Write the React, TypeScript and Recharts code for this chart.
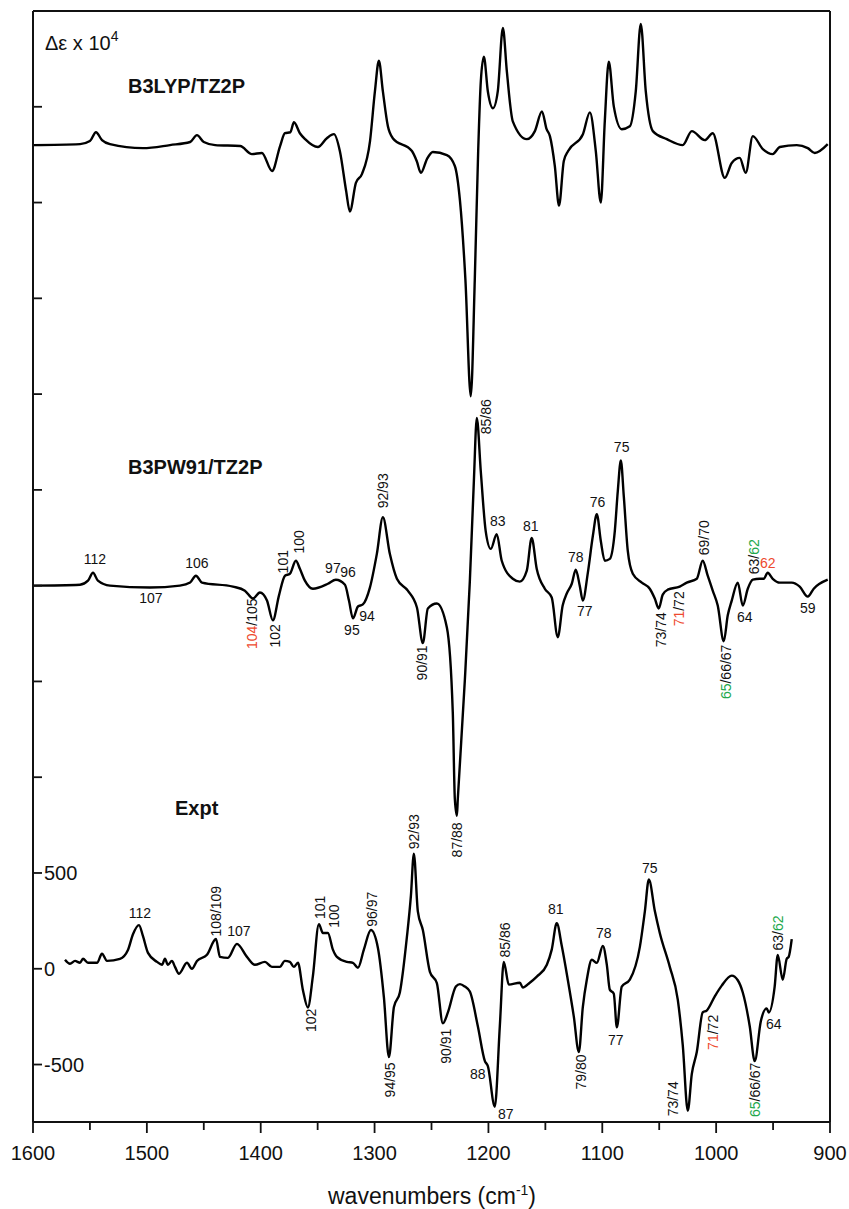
import React from 'react';
import { LineChart, Line, XAxis, YAxis, ReferenceLine, ReferenceDot } from 'recharts';

const FONT = 'Arial, "Liberation Sans", Helvetica, sans-serif';
const INK = '#111';
const RED = '#ee4a2e';
const GREEN = '#22a84c';

const Y_MIN = -800;
const Y_MAX = 5000;

// vertical offsets of the stacked spectra
const LYP_OFFSET = 4300;
const PW_OFFSET = 2000;
const EXPT_OFFSET = 0;

const X_TICKS = [1600, 1550, 1500, 1450, 1400, 1350, 1300, 1250, 1200, 1150, 1100, 1050, 1000, 950, 900];
const Y_TICKS = [-500, 0, 500, 1000, 1500, 2000, 2500, 3000, 3500, 4000, 4500];
const Y_LABELED = [-500, 0, 500];

// B3LYP/TZ2P
const lypWn = [
  1600, 1558.7, 1550, 1544.7, 1539.4, 1532.4, 1503.4, 1479.7, 1462, 1456,
  1450, 1440, 1418, 1407.7, 1399, 1390, 1383, 1378.7, 1374, 1370.8,
  1365.6, 1361, 1349.8, 1341.9, 1335.7, 1330.5, 1325, 1321.7, 1316.4, 1311,
  1304, 1299.7, 1296.2, 1292.7, 1288.3, 1284, 1267.2, 1263, 1259.3, 1254,
  1248.8, 1236.5, 1229.5, 1225, 1220.2, 1215.5, 1212, 1209, 1206.7, 1204,
  1200.5, 1196, 1191.8, 1187.3, 1183.8, 1178.6, 1166.3, 1159.2, 1153, 1148.9,
  1146, 1141.7, 1138, 1133.8, 1130, 1117, 1110.9, 1105.7, 1101.3, 1097.8,
  1094.3, 1089.9, 1082.9, 1075.8, 1070.6, 1066.2, 1061.8, 1055.6, 1043.3, 1029.3,
  1021.4, 1010, 1003, 992.4, 986.3, 979.3, 974, 967.8, 959, 950.3,
  944.1, 929.2, 919.5, 913.4, 902,
];
const lypDe = [
  0, 5, 21, 67, 26, 5, -16, 0, 16, 52,
  16, 0, -5, -47, -41, -135, -5, 62, 67, 119,
  62, 31, -10, 36, 57, -31, -238, -347, -197, -150,
  21, 280, 440, 280, 98, 36, -31, -83, -145, -73,
  -36, -52, -109, -290, -705, -1311, -705, -31, 332, 461,
  280, 192, 280, 611, 383, 124, 31, 73, 176, 83,
  47, -109, -316, -83, -31, 57, 171, -31, -300, 124,
  435, 202, 83, 98, 280, 632, 280, 73, 31, 0,
  73, 26, 62, -171, -93, -67, -145, 47, -21, -47,
  -10, 0, -16, -41, 5,
];

// B3PW91/TZ2P
const pwWn = [
  1600, 1558.7, 1551.7, 1547.3, 1543, 1532.4, 1497.3, 1471, 1462, 1456.9,
  1451.6, 1424.4, 1413.9, 1406.8, 1400.7, 1394.5, 1389.3, 1384, 1378.7, 1374.4,
  1369.1, 1365.6, 1361.2, 1354.2, 1341, 1334, 1326, 1322.5, 1319, 1314.6,
  1310.3, 1304.1, 1298, 1292.7, 1286.6, 1280.4, 1270.8, 1262.8, 1257.6, 1253.2,
  1245.3, 1236.5, 1231.3, 1229.5, 1227.7, 1226.9, 1220.7, 1216.3, 1212.8, 1210.2,
  1206.7, 1202.4, 1197.9, 1192.7, 1188.3, 1178.6, 1172.4, 1166.3, 1162, 1157.6,
  1150.5, 1144.4, 1139.1, 1134.8, 1131.2, 1126.8, 1123.3, 1119.8, 1117.1, 1112.7,
  1108.3, 1104.8, 1101.3, 1097.8, 1093.4, 1089, 1086.4, 1083.7, 1081.1, 1077.6,
  1073.2, 1065.3, 1058.3, 1053.9, 1050.4, 1046.9, 1042.5, 1032, 1025.8, 1017,
  1011.8, 1007.4, 1003, 998.6, 993.3, 989.8, 986.3, 981, 976.6, 972.2,
  967.8, 961.7, 958.2, 954.7, 950.3, 944.1, 933.6, 926.6, 919.5, 914.3,
  902,
];
const pwDe = [
  0, 5, 26, 67, 26, 0, -10, 0, 16, 52,
  16, -5, -26, -67, -36, -78, -181, -52, 52, 62,
  130, 88, 26, -16, 10, 31, 5, -78, -171, -109,
  -98, -10, 166, 357, 166, 36, -26, -114, -300, -119,
  -93, -218, -663, -1114, -1202, -1114, -492, 26, 544, 875,
  596, 285, 192, 269, 130, 36, 21, 78, 249, 88,
  -16, -62, -269, -104, -41, 10, 83, 0, -78, 67,
  259, 373, 233, 130, 140, 285, 492, 653, 466, 181,
  62, 16, -16, -67, -119, -47, -21, -5, 16, 36,
  130, 52, -26, -104, -290, -155, -78, 16, -104, -16,
  31, 36, 36, 67, 36, 16, 16, -5, -57, -16,
  31,
];

// Expt
const exWn = [
  1571.9, 1567.5, 1563.1, 1558.7, 1556.1, 1551.7, 1543.8, 1539.4, 1535, 1523.6,
  1516.6, 1512.2, 1506.9, 1503.4, 1499, 1491.1, 1486.7, 1484.1, 1481.5, 1478,
  1475.3, 1471.8, 1464.8, 1460.4, 1456, 1447.2, 1439.3, 1435.8, 1428.8, 1420.9,
  1412.1, 1405.1, 1396.3, 1390.2, 1383.2, 1378.8, 1374.4, 1370.9, 1367.3, 1363,
  1358.6, 1354.2, 1348.9, 1345.4, 1341, 1336.6, 1333.1, 1324.3, 1319, 1314.6,
  1309.4, 1303.2, 1297.1, 1291.8, 1287.4, 1283, 1277.8, 1271.6, 1268.1, 1265.5,
  1262, 1257.6, 1251.4, 1245.3, 1240, 1235.6, 1228.6, 1225, 1220.7, 1216.3,
  1209.3, 1203.1, 1200.5, 1194.4, 1190, 1186.5, 1182.1, 1172.4, 1169.8, 1163.7,
  1157.5, 1148.7, 1144.4, 1140, 1135.6, 1130.3, 1125, 1120.6, 1117.1, 1113.6,
  1109.2, 1104.8, 1099.5, 1096, 1093.4, 1089.9, 1087.2, 1082.9, 1075.8, 1067,
  1062.6, 1059.1, 1053.8, 1049.5, 1040.7, 1033.7, 1029.3, 1024.9, 1021.4, 1017,
  1011.8, 1008.3, 1001.3, 995.1, 986.3, 981, 976.6, 970.5, 966.1, 960.8,
  955.6, 953.8, 948.6, 945.9, 941.5, 938, 936.3, 933.6,
];
const exDe = [
  47, 26, 41, 31, 52, 31, 31, 78, 41, 52,
  98, 180, 228, 170, 83, 36, 21, 52, 21, 41,
  10, -26, 31, 0, 41, 73, 155, 62, 57, 130,
  62, 21, 36, 10, 10, 41, 36, 10, 31, -109,
  -202, -40, 233, 187, 187, 100, 62, 36, 31, 5,
  100, 202, 110, -150, -461, -200, -124, 166, 380, 601,
  300, 202, -16, -75, -285, -228, -93, -80, -93, -119,
  -300, -482, -508, -720, -300, 36, -83, -73, -98, -73,
  -41, 21, 100, 238, 120, -57, -250, -435, -200, -57,
  47, 31, 119, 20, -109, -130, -306, -93, -57, 114,
  300, 466, 300, 187, 10, -161, -400, -741, -550, -435,
  -228, -218, -145, -88, -36, -60, -124, -300, -482, -275,
  -207, -228, -93, 72, -57, 52, 62, 155,
];

// band assignments: [wavenumber, Δε (chart units), rotated, text parts]
type Part = [string, string?];
type Anno = [number, number, boolean, Part[]];

const pwLabels: Anno[] = [
  [1545.6, 2140, false, [['112']]],
  [1496.4, 1937, false, [['107']]],
  [1456, 2120, false, [['106']]],
  [1407.3, 1801, true, [['104', 'r'], ['/105']]],
  [1387.5, 1738, true, [['102']]],
  [1380.5, 2125, true, [['101']]],
  [1366.5, 2229, true, [['100']]],
  [1336.6, 2093, false, [['97']]],
  [1323.4, 2073, false, [['96']]],
  [1319.9, 1770, false, [['95']]],
  [1306.7, 1843, false, [['94']]],
  [1292.7, 2495, true, [['92/93']]],
  [1258.5, 1597, true, [['90/91']]],
  [1227.7, 673, true, [['87/88']]],
  [1202.3, 2882, true, [['85/86']]],
  [1191.7, 2339, false, [['83']]],
  [1162.8, 2313, false, [['81']]],
  [1123.2, 2151, false, [['78']]],
  [1115.3, 1869, false, [['77']]],
  [1104.1, 2438, false, [['76']]],
  [1083, 2725, false, [['75']]],
  [1048.6, 1770, true, [['73/74']]],
  [1032.8, 1879, true, [['71', 'r'], ['/72']]],
  [1010.9, 2250, true, [['69/70']]],
  [991.5, 1550, true, [['65', 'g'], ['/66/67']]],
  [974.9, 1838, false, [['64']]],
  [966.9, 2151, true, [['63/'], ['62', 'g']]],
  [954.7, 2120, false, [['62', 'r']]],
  [919.6, 1885, false, [['59']]],
];

const exLabels: Anno[] = [
  [1506.1, 290, false, [['112']]],
  [1439.3, 300, true, [['108/109']]],
  [1419.1, 197, false, [['107']]],
  [1355.9, -269, true, [['102']]],
  [1348, 321, true, [['101']]],
  [1335.7, 275, true, [['100']]],
  [1302.4, 311, true, [['96/97']]],
  [1286.6, -580, true, [['94/95']]],
  [1265.5, 715, true, [['92/93']]],
  [1237.4, -404, true, [['90/91']]],
  [1209.3, -549, false, [['88']]],
  [1184.7, -756, false, [['87']]],
  [1185.6, 150, true, [['85/86']]],
  [1140.8, 311, false, [['81']]],
  [1118.9, -539, true, [['79/80']]],
  [1098.7, 187, false, [['78']]],
  [1088.1, -373, false, [['77']]],
  [1058.3, 528, false, [['75']]],
  [1038.1, -679, true, [['73/74']]],
  [1003, -332, true, [['71', 'r'], ['/72']]],
  [966.1, -632, true, [['65', 'g'], ['/66/67']]],
  [949.4, -290, false, [['64']]],
  [945.9, 187, true, [['63/'], ['62', 'g']]],
];

const build = (wn: number[], de: number[], off: number) => wn.map((w, i) => ({ w, v: de[i] + off }));

const lypData = build(lypWn, lypDe, LYP_OFFSET);
const pwData = build(pwWn, pwDe, PW_OFFSET);
const exData = build(exWn, exDe, EXPT_OFFSET);

const partColor = (c?: string) => (c === 'r' ? RED : c === 'g' ? GREEN : INK);

const AnnoText = ({ cx, cy, a }: any) => {
  const [, , rot, parts] = a as Anno;
  return (
    <text
      x={cx}
      y={cy}
      textAnchor="middle"
      dominantBaseline="central"
      fontSize={14}
      fontFamily={FONT}
      fill={INK}
      transform={rot ? `rotate(-90 ${cx} ${cy})` : undefined}
    >
      {parts.map(([s, c], i) => (
        <tspan key={i} fill={partColor(c)}>{s}</tspan>
      ))}
    </text>
  );
};

// custom ticks draw their own tick marks (x / y are the axis line position)
const XTick = (props: any) => {
  const { x, y, payload } = props;
  const major = payload.value % 100 === 0;
  return (
    <g>
      <line x1={x} x2={x} y1={y} y2={y + (major ? 11 : 8)} stroke={INK} strokeWidth={1.8} />
      {major && (
        <text x={x} y={y + 38} textAnchor="middle" fontSize={20} fontFamily={FONT} fill={INK}>
          {payload.value}
        </text>
      )}
    </g>
  );
};

const YTick = (props: any) => {
  const { x, y, payload } = props;
  return (
    <g>
      <line x1={x} x2={x + 9} y1={y} y2={y} stroke={INK} strokeWidth={1.8} />
      {Y_LABELED.includes(payload.value) && (
        <text x={x + 11} y={y} dominantBaseline="central" fontSize={20} fontFamily={FONT} fill={INK}>
          {payload.value}
        </text>
      )}
    </g>
  );
};

const renderAnnos = (list: Anno[], key: string) =>
  list.map((a, i) => (
    <ReferenceDot
      key={`${key}-${i}`}
      x={a[0]}
      y={a[1]}
      r={0}
      ifOverflow="visible"
      shape={(p: any) => <AnnoText cx={p.cx} cy={p.cy} a={a} />}
    />
  ));

export default function App() {
  const lineProps = {
    dataKey: 'v',
    type: 'monotone' as const,
    dot: false,
    stroke: '#000',
    strokeWidth: 2.4,
    isAnimationActive: false,
  };
  return (
    <div style={{ position: 'absolute', left: 0, top: 0, width: 849, height: 1209, background: '#fff' }}>
      <LineChart width={849} height={1209} margin={{ top: 11, right: 19, bottom: 77, left: 23 }}>
        <XAxis
          dataKey="w"
          type="number"
          domain={[900, 1600]}
          reversed
          allowDataOverflow
          ticks={X_TICKS}
          interval={0}
          height={10}
          tickSize={0}
          tickMargin={0}
          tickLine={false}
          tick={<XTick />}
          axisLine={{ stroke: INK, strokeWidth: 2 }}
        />
        <YAxis
          type="number"
          domain={[Y_MIN, Y_MAX]}
          allowDataOverflow
          ticks={Y_TICKS}
          interval={0}
          width={10}
          tickSize={0}
          tickMargin={0}
          tickLine={false}
          tick={<YTick />}
          axisLine={{ stroke: INK, strokeWidth: 2 }}
        />
        <ReferenceLine x={900} stroke={INK} strokeWidth={2} />
        <ReferenceLine y={Y_MAX} stroke={INK} strokeWidth={2} />
        <Line data={lypData} {...lineProps} />
        <Line data={pwData} {...lineProps} />
        <Line data={exData} {...lineProps} />
        {renderAnnos(pwLabels, 'pw')}
        {renderAnnos(exLabels, 'ex')}
      </LineChart>
      <svg
        width={849}
        height={1209}
        style={{ position: 'absolute', left: 0, top: 0, pointerEvents: 'none' }}
        fontFamily={FONT}
        fill={INK}
      >
        <text x={45} y={50} fontSize={20}>
          Δε x 10<tspan dy={-9} fontSize={14}>4</tspan>
        </text>
        <text x={128} y={93} fontSize={20} fontWeight="bold">B3LYP/TZ2P</text>
        <text x={128} y={474} fontSize={20} fontWeight="bold">B3PW91/TZ2P</text>
        <text x={175} y={815} fontSize={20} fontWeight="bold">Expt</text>
        <text x={432} y={1204} fontSize={23} textAnchor="middle">
          wavenumbers (cm<tspan dy={-9} fontSize={14}>-1</tspan><tspan dy={9}>)</tspan>
        </text>
      </svg>
    </div>
  );
}
